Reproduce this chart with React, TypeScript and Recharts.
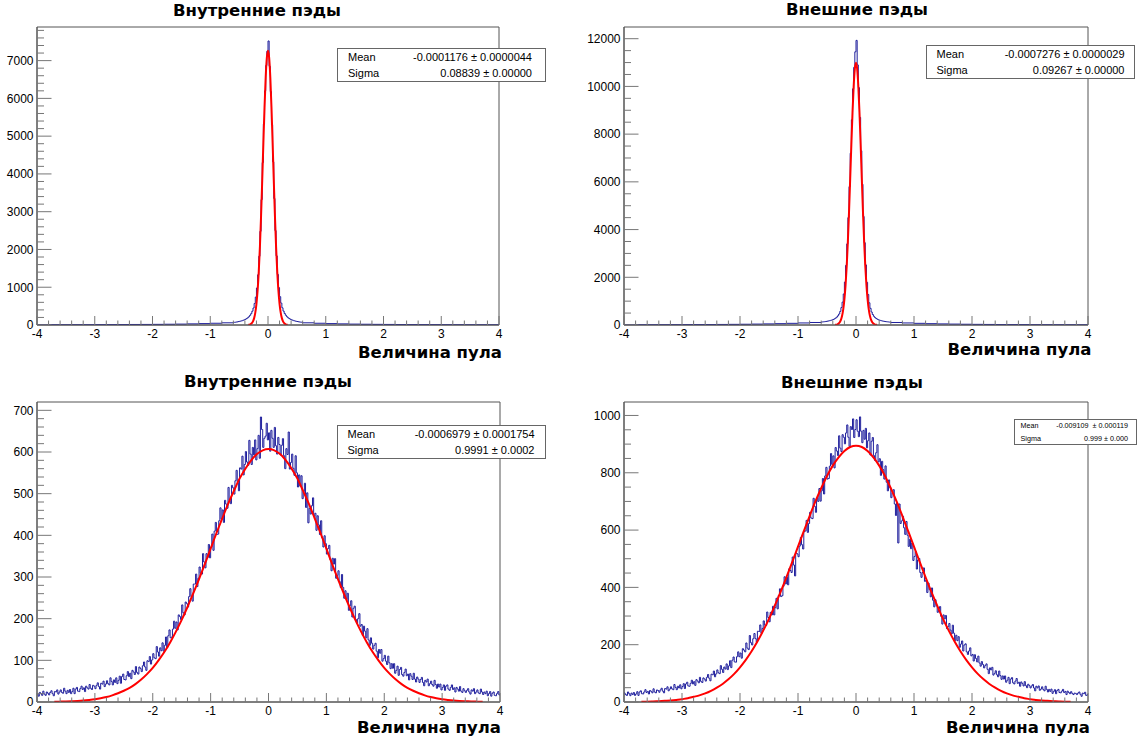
import React from 'react';
import { ComposedChart, Line, XAxis, YAxis, ReferenceArea } from 'recharts';

// ---------- data ----------
const TOP_EDGES_LEFT = [-4, -3.8, -3.6, -3.4, -3.2, -3, -2.8, -2.6, -2.4, -2.2, -2, -1.8, -1.6, -1.4, -1.2, -1, -0.8];
const TOP_EDGES_CORE = [-0.6, -0.58, -0.56, -0.54, -0.52, -0.5, -0.48, -0.46, -0.44, -0.42, -0.4, -0.38, -0.36, -0.34, -0.32, -0.3, -0.28, -0.26, -0.24, -0.22, -0.2, -0.18, -0.16, -0.14, -0.12, -0.1, -0.08, -0.06, -0.04, -0.02, 0, 0.02, 0.04, 0.06, 0.08, 0.1, 0.12, 0.14, 0.16, 0.18, 0.2, 0.22, 0.24, 0.26, 0.28, 0.3, 0.32, 0.34, 0.36, 0.38, 0.4, 0.42, 0.44, 0.46, 0.48, 0.5, 0.52, 0.54, 0.56, 0.58];
const TOP_EDGES_RIGHT = [0.6, 0.8, 1, 1.2, 1.4, 1.6, 1.8, 2, 2.2, 2.4, 2.6, 2.8, 3, 3.2, 3.4, 3.6, 3.8];

const INNER_NARROW_COUNTS = [
  6, 7, 7, 8, 9, 10, 11, 12, 14, 15, 17, 20, 24, 30, 37, 46, 58,
  70, 72, 78, 82, 90, 96, 104, 112, 124, 136, 150, 168, 190, 218, 255, 300, 365, 450, 570, 740, 980, 1330, 1820, 2480, 3320, 4300, 5320, 6200, 6870, 7250,
  7520, 6850, 6180, 5300, 4320, 3350, 2500, 1830, 1340, 990, 750, 580, 455, 368, 305, 258, 220, 192, 170, 152, 138, 126, 115, 106, 98, 92, 86, 80, 76, 72,
  58, 46, 37, 30, 24, 20, 17, 15, 13, 12, 11, 10, 9, 8, 7, 7, 6,
];

const OUTER_NARROW_COUNTS = [
  9, 10, 11, 12, 14, 16, 18, 20, 23, 27, 32, 38, 46, 56, 70, 86, 105,
  124, 130, 136, 143, 151, 160, 170, 182, 196, 212, 232, 256, 288, 330, 385, 460, 570, 730, 960, 1300, 1800, 2500, 3400, 4500, 5800, 7200, 8600, 9900, 10800, 11450,
  11930, 10900, 9950, 8700, 7300, 5900, 4550, 3450, 2520, 1790, 1280, 930, 700, 545, 440, 365, 312, 272, 242, 218, 200, 185, 172, 161, 152, 144, 137, 131, 125, 120,
  105, 86, 70, 56, 46, 38, 32, 27, 23, 20, 18, 16, 14, 12, 11, 10, 9,
];

const WIDE_BIN_START = -4;
const WIDE_BIN_WIDTH = 0.02;

const INNER_WIDE_COUNTS = [
  20, 14, 23, 20, 16, 26, 19, 16, 24, 21, 17, 23, 27, 20, 15, 25, 24, 29, 19, 24,
  29, 23, 21, 33, 26, 20, 28, 23, 30, 20, 25, 33, 20, 31, 35, 26, 25, 32, 38, 30,
  34, 25, 38, 34, 31, 42, 33, 30, 40, 38, 32, 40, 46, 37, 31, 45, 43, 50, 37, 43,
  51, 44, 41, 58, 49, 41, 53, 47, 58, 44, 52, 62, 45, 61, 67, 54, 53, 63, 73, 61,
  69, 56, 76, 72, 66, 85, 71, 67, 84, 80, 73, 87, 96, 84, 76, 99, 97, 109, 91, 101,
  116, 106, 104, 133, 120, 110, 130, 123, 142, 122, 136, 156, 131, 159, 173, 154, 156, 175, 194, 177,
  192, 173, 209, 205, 198, 233, 214, 209, 240, 236, 228, 253, 272, 253, 242, 283, 283, 307, 277, 297,
  324, 309, 307, 356, 336, 322, 356, 347, 378, 346, 372, 403, 364, 410, 431, 402, 403, 435, 466, 439,
  461, 431, 484, 475, 465, 515, 484, 476, 520, 514, 499, 531, 556, 527, 507, 562, 559, 590, 545, 570,
  601, 576, 568, 628, 595, 570, 611, 593, 629, 581, 608, 640, 585, 684, 654, 611, 633, 638, 669, 629,
  646, 602, 652, 633, 611, 659, 615, 595, 635, 618, 593, 616, 632, 591, 560, 608, 594, 648, 559, 575,
  595, 561, 544, 591, 550, 516, 545, 518, 543, 488, 505, 525, 467, 502, 430, 465, 451, 471, 490, 446,
  453, 412, 447, 425, 402, 435, 394, 372, 399, 380, 355, 368, 376, 342, 315, 345, 331, 344, 297, 304,
  315, 289, 275, 306, 275, 249, 267, 246, 261, 220, 231, 243, 204, 225, 230, 198, 189, 200, 212, 182,
  186, 160, 182, 170, 154, 176, 149, 136, 154, 141, 127, 136, 141, 122, 106, 126, 117, 126, 98, 104,
  112, 98, 90, 110, 94, 80, 92, 81, 92, 69, 76, 86, 64, 78, 83, 66, 62, 71, 79, 63,
  67, 53, 68, 62, 54, 69, 55, 48, 60, 55, 47, 54, 59, 47, 39, 52, 48, 55, 39, 44,
  50, 42, 38, 52, 42, 33, 43, 36, 43, 29, 35, 41, 28, 38, 41, 31, 28, 35, 41, 30,
  34, 24, 35, 31, 26, 37, 26, 23, 32, 27, 23, 28, 32, 24, 19, 29, 26, 32, 20, 24,
  29, 22, 20, 31, 24, 18, 24, 20, 26, 15, 20, 25, 14, 21, 24, 16, 15, 20, 25, 17,
];

const OUTER_WIDE_COUNTS = [
  31, 26, 23, 35, 29, 22, 31, 26, 33, 23, 28, 36, 23, 35, 39, 29, 28, 35, 43, 33,
  37, 28, 40, 37, 32, 46, 35, 32, 42, 40, 34, 42, 48, 38, 32, 47, 45, 53, 39, 45,
  53, 46, 43, 61, 51, 43, 55, 49, 60, 46, 54, 64, 47, 63, 69, 56, 55, 65, 76, 63,
  71, 58, 78, 73, 67, 86, 72, 68, 84, 80, 73, 86, 96, 83, 74, 97, 95, 108, 88, 98,
  112, 102, 99, 127, 114, 103, 122, 115, 133, 113, 126, 144, 120, 146, 157, 140, 139, 158, 175, 158,
  171, 153, 186, 181, 175, 206, 188, 183, 232, 207, 199, 221, 239, 221, 209, 247, 246, 269, 240, 257,
  283, 268, 267, 314, 295, 280, 313, 304, 334, 304, 329, 362, 325, 372, 395, 368, 371, 404, 437, 412,
  436, 409, 465, 459, 452, 506, 478, 440, 520, 517, 507, 544, 574, 549, 534, 595, 597, 634, 592, 623,
  662, 642, 640, 711, 683, 662, 712, 700, 745, 701, 737, 780, 726, 789, 819, 778, 780, 823, 867, 829,
  859, 817, 888, 876, 860, 929, 886, 874, 933, 924, 901, 939, 967, 924, 892, 961, 951, 988, 923, 951,
  985, 945, 926, 995, 945, 905, 948, 917, 955, 887, 912, 939, 862, 910, 923, 860, 843, 870, 898, 838,
  849, 791, 840, 811, 778, 824, 767, 737, 775, 748, 713, 731, 741, 691, 651, 695, 555, 691, 623, 632,
  648, 608, 585, 630, 582, 543, 568, 535, 555, 494, 508, 525, 464, 496, 501, 452, 435, 452, 468, 421,
  425, 382, 415, 392, 367, 398, 355, 332, 357, 336, 313, 325, 333, 299, 272, 304, 290, 302, 256, 263,
  274, 251, 238, 268, 240, 215, 233, 214, 228, 191, 202, 213, 178, 199, 203, 175, 166, 178, 189, 161,
  166, 143, 165, 152, 140, 160, 136, 125, 141, 131, 119, 127, 133, 114, 99, 119, 112, 121, 94, 100,
  109, 95, 88, 108, 92, 79, 91, 80, 91, 69, 76, 86, 64, 80, 85, 67, 63, 73, 82, 65,
  69, 55, 70, 64, 56, 71, 57, 50, 62, 57, 49, 56, 61, 49, 39, 55, 49, 56, 41, 45,
  53, 44, 39, 55, 44, 35, 44, 37, 45, 30, 37, 43, 29, 40, 44, 33, 32, 38, 44, 33,
  37, 26, 38, 33, 29, 36, 30, 26, 31, 30, 26, 31, 35, 27, 20, 31, 29, 34, 23, 25,
];

const NARROW_FIT_STEP = 0.02;
const INNER_NARROW_FIT_START = -0.34;
const INNER_NARROW_FIT = [4.5, 10, 23, 48, 96, 182, 328, 562, 914, 1412, 2073, 2891, 3831, 4823, 5769, 6556, 7079, 7263, 7079, 6556, 5769, 4823, 3831, 2891, 2073, 1412, 914, 562, 328, 182, 96, 48, 23, 10, 4.5];
const OUTER_NARROW_FIT_START = -0.36;
const OUTER_NARROW_FIT = [6, 13, 28, 58, 115, 215, 385, 657, 1073, 1668, 2479, 3514, 4755, 6143, 7574, 8913, 10013, 10737, 10990, 10737, 10013, 8913, 7574, 6143, 4755, 3514, 2479, 1668, 1073, 657, 385, 215, 115, 58, 28, 13, 6];

const WIDE_FIT_START = -3.7;
const WIDE_FIT_STEP = 0.1;
const INNER_WIDE_FIT = [0.6, 0.9, 1.3, 1.9, 2.6, 3.6, 5, 6.7, 9, 12, 16, 21, 27, 34, 43, 54, 67, 82, 100, 120, 143, 169, 197, 228, 261, 295, 331, 368, 405, 440, 475, 506, 536, 560, 580, 595, 604, 607, 604, 595, 580, 560, 536, 506, 475, 440, 405, 368, 331, 295, 261, 228, 197, 169, 143, 120, 100, 82, 67, 54, 43, 34, 27, 21, 16, 12, 9, 6.7, 5, 3.6, 2.6, 1.9, 1.3, 0.9, 0.6];
const OUTER_WIDE_FIT = [0.9, 1.3, 2, 3, 4, 5, 7, 10, 13, 18, 23, 30, 39, 50, 63, 79, 98, 121, 147, 177, 211, 249, 290, 336, 384, 435, 488, 542, 596, 649, 700, 746, 789, 825, 854, 876, 890, 894, 890, 876, 854, 825, 789, 746, 700, 649, 596, 542, 488, 435, 384, 336, 290, 249, 211, 177, 147, 121, 98, 79, 63, 50, 39, 30, 23, 18, 13, 10, 7, 5, 4, 3, 2, 1.3, 0.9];

const Y_MAJOR_INNER_NARROW = [0, 1000, 2000, 3000, 4000, 5000, 6000, 7000];
const Y_MAJOR_OUTER_NARROW = [0, 2000, 4000, 6000, 8000, 10000, 12000];
const Y_MAJOR_INNER_WIDE = [0, 100, 200, 300, 400, 500, 600, 700];
const Y_MAJOR_OUTER_WIDE = [0, 200, 400, 600, 800, 1000];

const TITLE_INNER = 'Внутренние пэды';
const TITLE_OUTER = 'Внешние пэды';
const X_TITLE = 'Величина пула';

const STATS_INNER_NARROW = [['Mean', '-0.0001176 ± 0.0000044'], ['Sigma', '0.08839 ± 0.00000']];
const STATS_OUTER_NARROW = [['Mean', '-0.0007276 ± 0.0000029'], ['Sigma', '0.09267 ± 0.00000']];
const STATS_INNER_WIDE = [['Mean', '-0.0006979 ± 0.0001754'], ['Sigma', '0.9991 ± 0.0002']];
const STATS_OUTER_WIDE = [['Mean', '-0.009109  ± 0.000119'], ['Sigma', '0.999 ± 0.000']];

// ---------- helpers ----------
const r6 = (v: number) => Math.round(v * 1e6) / 1e6;
const seq = (start: number, step: number, n: number) => Array.from({ length: n }, (_, i) => r6(start + i * step));

type Pt = { x: number; y: number };
function histFromEdges(edges: number[], counts: number[], end: number): Pt[] {
  const pts = edges.map((x, i) => ({ x, y: counts[i] }));
  pts.push({ x: end, y: counts[counts.length - 1] });
  return pts;
}
function curve(start: number, step: number, ys: number[]): Pt[] {
  return ys.map((y, i) => ({ x: r6(start + i * step), y }));
}

const TOP_EDGES = [...TOP_EDGES_LEFT, ...TOP_EDGES_CORE, ...TOP_EDGES_RIGHT];
const WIDE_EDGES = seq(WIDE_BIN_START, WIDE_BIN_WIDTH, INNER_WIDE_COUNTS.length);

const X_TICKS = seq(-4, 0.2, 41);

const FRAME = '#555';
const TICK = '#777';
const HIST = '#1e1e9c';
const FIT = '#ff0000';
const LABEL_FONT = "'Liberation Sans', Arial, Helvetica, sans-serif";
const TITLE_FONT = "'DejaVu Sans', sans-serif";

const XTick = (props: any) => {
  const { x, y, payload } = props;
  const v = payload.value;
  const major = Math.abs(v - Math.round(v)) < 1e-6;
  return (
    <g>
      <line x1={x} x2={x} y1={y} y2={y - (major ? 9 : 4.5)} stroke={TICK} strokeWidth={1} />
      {major && (
        <text x={x} y={y + 12.5} textAnchor="middle" fontSize={12} fontFamily={LABEL_FONT} fill="#000">
          {String(Math.round(v))}
        </text>
      )}
    </g>
  );
};

const YTick = (props: any) => {
  const { x, y, payload, majors } = props;
  const v = payload.value;
  const major = majors.includes(v);
  return (
    <g>
      <line x1={x} x2={x + (major ? 14.5 : 7)} y1={y} y2={y} stroke={TICK} strokeWidth={1} />
      {major && (
        <text x={x - 3.5} y={y + 4.3} textAnchor="end" fontSize={12} fontFamily={LABEL_FONT} fill="#000">
          {String(v)}
        </text>
      )}
    </g>
  );
};

type PanelProps = {
  left: number;
  top: number;
  width: number;
  height: number;
  margin: { top: number; right: number; bottom: number; left: number };
  yWidth: number;
  xHeight: number;
  yMax: number;
  yMajor: number[];
  yMinorStep: number;
  hist: Pt[];
  fit: Pt[];
};

function Panel(p: PanelProps) {
  const yTicks: number[] = [];
  for (let v = 0; v < p.yMax - 1e-9; v += p.yMinorStep) yTicks.push(r6(v));
  return (
    <div style={{ position: 'absolute', left: p.left, top: p.top, width: p.width, height: p.height }}>
      <ComposedChart width={p.width} height={p.height} margin={p.margin}>
        <XAxis
          dataKey="x"
          type="number"
          domain={[-4, 4]}
          ticks={X_TICKS}
          interval={0}
          tickSize={0}
          tickMargin={0}
          tickLine={false}
          axisLine={{ stroke: FRAME }}
          height={p.xHeight}
          allowDataOverflow
          tick={(t: any) => <XTick {...t} />}
        />
        <YAxis
          type="number"
          domain={[0, p.yMax]}
          ticks={yTicks}
          interval={0}
          tickSize={0}
          tickMargin={0}
          tickLine={false}
          axisLine={{ stroke: FRAME }}
          width={p.yWidth}
          allowDataOverflow
          tick={(t: any) => <YTick {...t} majors={p.yMajor} />}
        />
        <ReferenceArea x1={-4} x2={4} y1={0} y2={p.yMax} fill="none" stroke={FRAME} strokeWidth={1} ifOverflow="visible" />
        <Line data={p.hist} dataKey="y" type="stepAfter" stroke={HIST} strokeWidth={1} dot={false} activeDot={false} isAnimationActive={false} />
        <Line data={p.fit} dataKey="y" type="monotone" stroke={FIT} strokeWidth={2} dot={false} activeDot={false} isAnimationActive={false} />
      </ComposedChart>
    </div>
  );
}

type BoxProps = {
  left: number;
  top: number;
  width: number;
  height: number;
  fontSize: number;
  lineHeight: number;
  padL: number;
  padR: number;
  padT: number;
  rows: string[][];
};

function StatBox(b: BoxProps) {
  return (
    <div
      style={{
        position: 'absolute',
        left: b.left,
        top: b.top,
        width: b.width,
        height: b.height,
        boxSizing: 'border-box',
        border: '1px solid #666',
        background: '#fff',
        fontFamily: LABEL_FONT,
        fontSize: b.fontSize,
        lineHeight: `${b.lineHeight}px`,
        paddingLeft: b.padL,
        paddingRight: b.padR,
        paddingTop: b.padT,
        color: '#000',
        whiteSpace: 'pre',
      }}
    >
      {b.rows.map((r) => (
        <div key={r[0]} style={{ display: 'flex', justifyContent: 'space-between' }}>
          <span>{r[0]}</span>
          <span>{r[1]}</span>
        </div>
      ))}
    </div>
  );
}

export default function App() {
  return (
    <div style={{ position: 'absolute', left: 0, top: 0, width: 1140, height: 741, background: '#fff', overflow: 'hidden' }}>
      <Panel
        left={0}
        top={0}
        width={570}
        height={370}
        margin={{ top: 27, right: 71, bottom: 15, left: 0 }}
        yWidth={37}
        xHeight={30}
        yMax={7890}
        yMajor={Y_MAJOR_INNER_NARROW}
        yMinorStep={200}
        hist={histFromEdges(TOP_EDGES, INNER_NARROW_COUNTS, 4)}
        fit={curve(INNER_NARROW_FIT_START, NARROW_FIT_STEP, INNER_NARROW_FIT)}
      />
      <Panel
        left={570}
        top={0}
        width={570}
        height={370}
        margin={{ top: 27, right: 52, bottom: 15, left: 0 }}
        yWidth={54}
        xHeight={30}
        yMax={12490}
        yMajor={Y_MAJOR_OUTER_NARROW}
        yMinorStep={500}
        hist={histFromEdges(TOP_EDGES, OUTER_NARROW_COUNTS, 4)}
        fit={curve(OUTER_NARROW_FIT_START, NARROW_FIT_STEP, OUTER_NARROW_FIT)}
      />
      <Panel
        left={0}
        top={370}
        width={570}
        height={371}
        margin={{ top: 32, right: 70, bottom: 9, left: 0 }}
        yWidth={37}
        xHeight={30}
        yMax={720}
        yMajor={Y_MAJOR_INNER_WIDE}
        yMinorStep={20}
        hist={histFromEdges(WIDE_EDGES, INNER_WIDE_COUNTS, 4)}
        fit={curve(WIDE_FIT_START, WIDE_FIT_STEP, INNER_WIDE_FIT)}
      />
      <Panel
        left={570}
        top={370}
        width={570}
        height={371}
        margin={{ top: 32, right: 52, bottom: 9, left: 0 }}
        yWidth={54}
        xHeight={30}
        yMax={1047}
        yMajor={Y_MAJOR_OUTER_WIDE}
        yMinorStep={50}
        hist={histFromEdges(WIDE_EDGES, OUTER_WIDE_COUNTS, 4)}
        fit={curve(WIDE_FIT_START, WIDE_FIT_STEP, OUTER_WIDE_FIT)}
      />

      <StatBox left={337} top={48} width={209} height={34} fontSize={11} lineHeight={16} padL={10} padR={13} padT={0} rows={STATS_INNER_NARROW} />
      <StatBox left={926} top={45} width={209} height={34} fontSize={11} lineHeight={16} padL={9.5} padR={9.5} padT={0} rows={STATS_OUTER_NARROW} />
      <StatBox left={337} top={425} width={209} height={34} fontSize={11} lineHeight={16} padL={9.5} padR={10.5} padT={0} rows={STATS_INNER_WIDE} />
      <StatBox left={1014} top={419} width={123} height={26} fontSize={7.2} lineHeight={12.5} padL={5.5} padR={8} padT={0} rows={STATS_OUTER_WIDE} />

      <svg width={1140} height={741} style={{ position: 'absolute', left: 0, top: 0, pointerEvents: 'none' }}>
        <g fontFamily={TITLE_FONT} fontWeight="bold" fontSize={16.5} fill="#000">
          <text x={257} y={16} textAnchor="middle">{TITLE_INNER}</text>
          <text x={857} y={15} textAnchor="middle">{TITLE_OUTER}</text>
          <text x={268} y={387} textAnchor="middle">{TITLE_INNER}</text>
          <text x={852} y={388} textAnchor="middle">{TITLE_OUTER}</text>
          <text x={502} y={358} textAnchor="end">{X_TITLE}</text>
          <text x={1091.5} y={355} textAnchor="end">{X_TITLE}</text>
          <text x={501} y={732.5} textAnchor="end">{X_TITLE}</text>
          <text x={1090} y={733} textAnchor="end">{X_TITLE}</text>
        </g>
      </svg>
    </div>
  );
}
